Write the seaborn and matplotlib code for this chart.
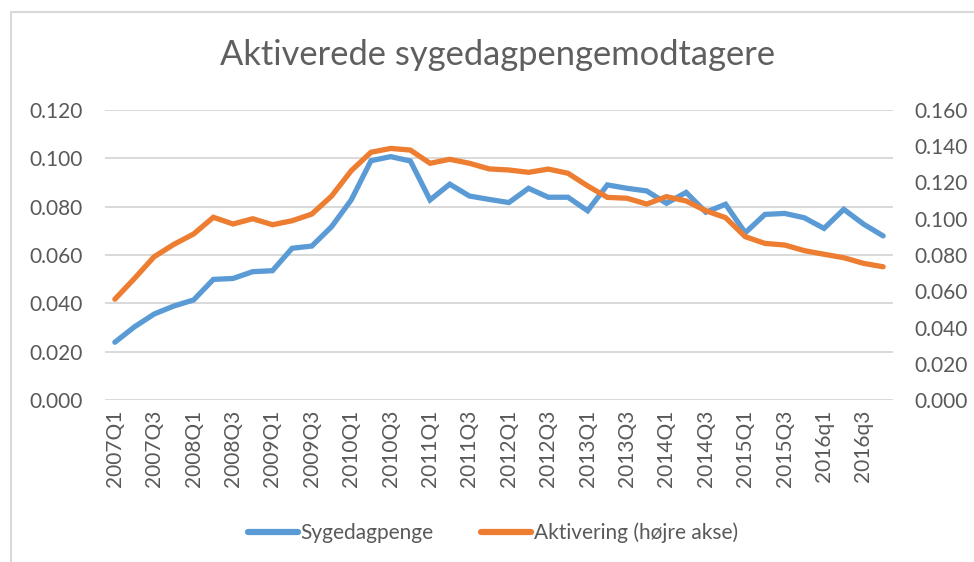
import matplotlib
matplotlib.use("Agg")
import matplotlib.pyplot as plt
from matplotlib.lines import Line2D
import seaborn as sns
import pandas as pd
import numpy as np

# ---- data ----
quarters = [f"{y}Q{q}" for y in range(2007, 2016) for q in range(1, 5)] + \
           [f"2016q{q}" for q in range(1, 5)]

sygedagpenge = [0.0239, 0.0303, 0.0356, 0.0389, 0.0414, 0.0499, 0.0503, 0.0531,
                0.0535, 0.0628, 0.0637, 0.0717, 0.0828, 0.0990, 0.1007, 0.0989,
                0.0828, 0.0893, 0.0844, 0.0830, 0.0817, 0.0876, 0.0839, 0.0839,
                0.0783, 0.0890, 0.0876, 0.0865, 0.0814, 0.0859, 0.0777, 0.0810,
                0.0692, 0.0768, 0.0772, 0.0754, 0.0710, 0.0789, 0.0728, 0.0679]

aktivering = [0.0556, 0.0671, 0.0791, 0.0859, 0.0916, 0.1008, 0.0971, 0.1000,
              0.0967, 0.0989, 0.1026, 0.1125, 0.1265, 0.1367, 0.1388, 0.1379,
              0.1306, 0.1328, 0.1306, 0.1275, 0.1269, 0.1256, 0.1274, 0.1251,
              0.1181, 0.1118, 0.1113, 0.1081, 0.1122, 0.1098, 0.1044, 0.1006,
              0.0901, 0.0864, 0.0855, 0.0824, 0.0804, 0.0785, 0.0754, 0.0735]

left_ticks = [0.000, 0.020, 0.040, 0.060, 0.080, 0.100, 0.120]
right_ticks = [0.000, 0.020, 0.040, 0.060, 0.080, 0.100, 0.120, 0.140, 0.160]

title = "Aktiverede sygedagpengemodtagere"
label_blue = "Sygedagpenge"
label_orange = "Aktivering (højre akse)"

# ---- style ----
sns.set_style("white")
plt.rcParams["font.family"] = ["Lato", "DejaVu Sans"]
TXT = "#595959"
GRID = "#D9D9D9"
BLUE = "#5B9BD5"
ORANGE = "#ED7D31"

df = pd.DataFrame({"idx": np.arange(len(quarters)), "quarter": quarters,
                   "syg": sygedagpenge, "akt": aktivering})

fig = plt.figure(figsize=(9.74, 5.62), dpi=100)
ax = fig.add_axes([105/974, 1-400/562, (893-105)/974, (400-110)/562])
ax2 = ax.twinx()

for y in left_ticks:
    ax.axhline(y, color=GRID, lw=1.4, zorder=0)

sns.lineplot(data=df, x="idx", y="syg", ax=ax, color=BLUE, lw=3.8,
             solid_capstyle="round", solid_joinstyle="miter", legend=False)
sns.lineplot(data=df, x="idx", y="akt", ax=ax2, color=ORANGE, lw=3.8,
             solid_capstyle="round", solid_joinstyle="miter", legend=False)

ax.set_xlim(-0.5, len(quarters) - 0.5)
ax.set_ylim(0, 0.120)
ax2.set_ylim(0, 0.160)
ax.set_yticks(left_ticks)
ax.set_yticklabels([f"{v:.3f}" for v in left_ticks])
ax2.set_yticks(right_ticks)
ax2.set_yticklabels([f"{v:.3f}" for v in right_ticks])
xt = list(range(0, len(quarters), 2))
ax.set_xticks(xt)
ax.set_xticklabels([quarters[i] for i in xt], rotation=90)

for a in (ax, ax2):
    for s in a.spines.values():
        s.set_visible(False)
    a.set_xlabel("")
    a.set_ylabel("")
    a.tick_params(length=0, labelsize=15, labelcolor=TXT)
    a.patch.set_visible(False)
ax.tick_params(axis="y", pad=16)
ax2.tick_params(axis="y", pad=15.5)
ax.tick_params(axis="x", pad=7)
ax.grid(False)
ax2.grid(False)

fig.text(0.511, 1-55/562, title, ha="center", va="center", fontsize=24.8,
         color="#5f5f5f", fontweight="normal")

handles = [Line2D([], [], color=BLUE, lw=4.5, solid_capstyle="round"),
           Line2D([], [], color=ORANGE, lw=4.5, solid_capstyle="round")]
fig.legend(handles, [label_blue, label_orange], loc="center",
           bbox_to_anchor=(493/974, 1-533/562), ncol=2, frameon=False,
           fontsize=15, labelcolor=TXT, handlelength=2.4, handletextpad=0.1,
           columnspacing=2.3)

# chart-area border
fig.add_artist(Line2D([11/974, 11/974], [0, 1-12/562], color=GRID, lw=1.5,
                      transform=fig.transFigure))
fig.add_artist(Line2D([11/974, 1], [1-12/562, 1-12/562], color=GRID, lw=1.5,
                      transform=fig.transFigure))

fig.savefig("out.png", dpi=100)
